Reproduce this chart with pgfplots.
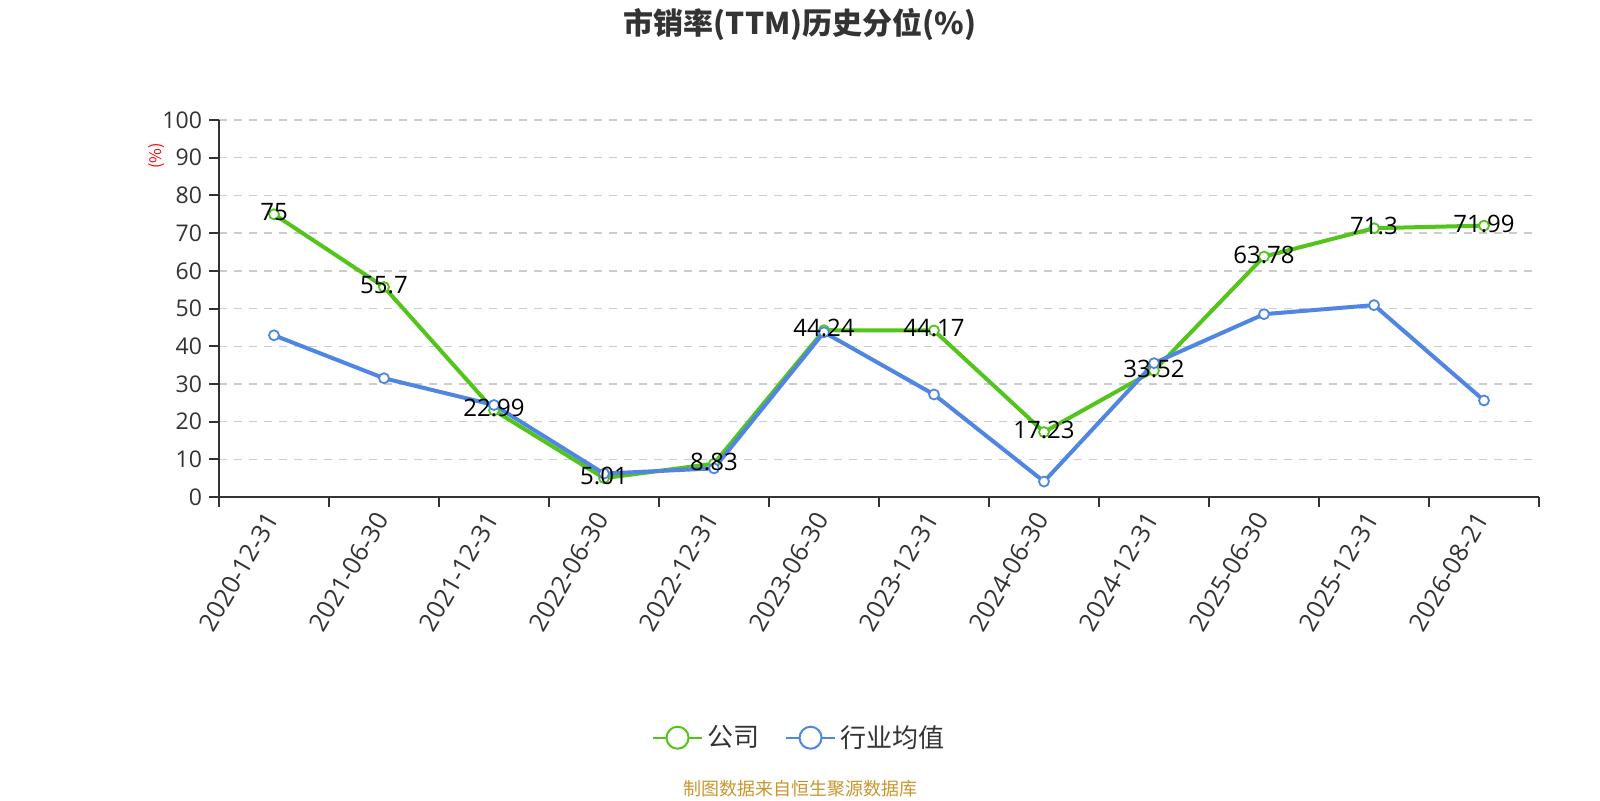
\documentclass[border=0pt]{standalone}
\usepackage{pgfplots}
\pgfplotsset{compat=1.18}
\usepackage{fontspec}
\setmainfont{Open Sans}
\newfontfamily\cjk{Noto Sans CJK SC}
\definecolor{cgreen}{HTML}{52C41A}
\definecolor{cblue}{HTML}{4F86E3}
\definecolor{axisc}{HTML}{333333}
\definecolor{gridc}{HTML}{CCCCCC}
\definecolor{srcc}{HTML}{C9962E}
\begin{document}
\begin{tikzpicture}
\path[use as bounding box] (0pt,0pt) rectangle (800pt,400pt);
\begin{axis}[
  at={(109.5pt,151.5pt)}, anchor=south west,
  scale only axis, width=660pt, height=188.5pt,
  xmin=-0.5, xmax=11.5, ymin=0, ymax=100,
  axis x line=bottom, axis y line=left,
  axis line style={-, draw=axisc, line width=1pt},
  tick align=outside, major tick length=5pt,
  tick style={draw=axisc, line width=1pt},
  ytick={0,10,...,100},
  xtick={-0.5,0.5,...,11.5},
  x tick label as interval,
  xticklabels={2020-12-31,2021-06-30,2021-12-31,2022-06-30,2022-12-31,2023-06-30,2023-12-31,2024-06-30,2024-12-31,2025-06-30,2025-12-31,2026-08-21},
  xticklabel style={rotate=60, anchor=east, font=\fontsize{12.6}{14}\selectfont, text=axisc, yshift=-1pt, xshift=-0.5pt},
  yticklabel style={font=\fontsize{11.5}{13}\selectfont, text=axisc},
  /pgf/number format/assume math mode=true,
  ymajorgrids,
  grid style={dash pattern=on 4pt off 3.5pt, draw=gridc, line width=0.7pt},
  legend columns=2,
  legend style={at={(rel axis cs:0.4402,-0.6385)}, anchor=center, draw=none, fill=none,
    font=\cjk\fontsize{13}{15}\selectfont, text=axisc,
    /tikz/every even column/.append style={column sep=11pt}},
  clip=false,
]
\addplot[color=cgreen, line width=2pt, mark=*, mark size=2.5pt,
  mark options={fill=white, line width=0.9pt},
  legend image code/.code={\draw[cgreen, line width=1pt] (0pt,0pt) -- (24.5pt,0pt);
    \draw[cgreen, line width=1pt, fill=white] (12.25pt,0pt) circle (5.5pt);}]
coordinates {(0,75) (1,55.7) (2,22.99) (3,5.01) (4,8.83) (5,44.24) (6,44.17) (7,17.23) (8,33.52) (9,63.78) (10,71.3) (11,71.99)};
\addlegendentry{公司}
\addplot[color=cblue, line width=2pt, mark=*, mark size=2.5pt,
  mark options={fill=white, line width=0.9pt},
  legend image code/.code={\draw[cblue, line width=1pt] (0pt,0pt) -- (24.5pt,0pt);
    \draw[cblue, line width=1pt, fill=white] (12.25pt,0pt) circle (5.5pt);}]
coordinates {(0,42.9) (1,31.5) (2,24.4) (3,6.2) (4,7.6) (5,43.7) (6,27.2) (7,4.1) (8,35.5) (9,48.5) (10,50.9) (11,25.6)};
\addlegendentry{行业均值}
\addplot[draw=none, forget plot, nodes near coords={\pgfplotspointmeta}, point meta=explicit symbolic,
  every node near coord/.append style={anchor=center, yshift=1pt, text=black, font=\fontsize{12}{14}\selectfont}]
coordinates {(0,75) [75] (1,55.7) [55.7] (2,22.99) [22.99] (3,5.01) [5.01] (4,8.83) [8.83] (5,44.24) [44.24] (6,44.17) [44.17] (7,17.23) [17.23] (8,33.52) [33.52] (9,63.78) [63.78] (10,71.3) [71.3] (11,71.99) [71.99]};
\end{axis}
\node[font=\cjk\bfseries\fontsize{15}{17}\selectfont, text=axisc] at (400pt,388pt) {市销率(TTM)历史分位(\%)};
\node[font=\cjk\fontsize{8}{9}\selectfont, text=red, rotate=90] at (78.5pt,322pt) {(\%)};
\node[font=\cjk\fontsize{9}{10}\selectfont, text=srcc] at (400pt,5.5pt) {制图数据来自恒生聚源数据库};
\end{tikzpicture}
\end{document}
